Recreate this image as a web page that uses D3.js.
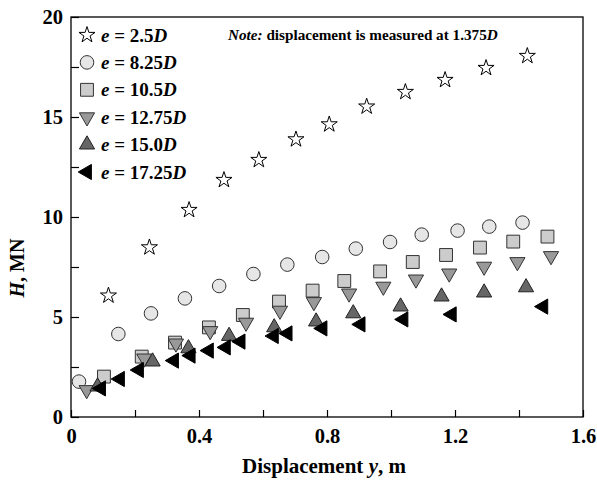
<!DOCTYPE html>
<html lang="en">
<head>
<meta charset="utf-8">
<title>H vs displacement</title>
<script src="https://d3js.org/d3.v7.min.js"></script>
<style>
  body { margin: 0; background: #fff; }
  text { font-family: "Liberation Serif", "Times New Roman", serif; font-weight: bold; }
</style>
</head>
<body>
<svg id="chart"></svg>
<script>
    // series values (displacement y in m, H in MN)
    const labels = ["2.5", "8.25", "10.5", "12.75", "15.0", "17.25"];

    const yStar = [0.117,0.245,0.369,0.478,0.587,0.703,0.807,0.924,1.045,1.169,1.297,1.426];
    const hStar = [6.07,8.48,10.35,11.85,12.85,13.88,14.63,15.52,16.25,16.85,17.45,18.05];

    const yCirc = [0.025,0.148,0.25,0.356,0.463,0.570,0.676,0.785,0.890,0.997,1.096,1.208,1.307,1.411];
    const hCirc = [1.77,4.15,5.18,5.93,6.55,7.15,7.62,8.0,8.42,8.75,9.12,9.32,9.52,9.72];

    const ySq = [0.103,0.221,0.325,0.431,0.537,0.65,0.755,0.854,0.966,1.068,1.172,1.278,1.382,1.489];
    const hSq = [2.02,3.02,3.72,4.48,5.1,5.77,6.32,6.8,7.28,7.75,8.1,8.47,8.77,9.02];

    const yDown = [0.049,0.229,0.328,0.435,0.547,0.653,0.759,0.869,0.976,1.078,1.182,1.291,1.395,1.5];
    const hDown = [1.35,2.93,3.68,4.3,4.72,5.32,5.75,6.18,6.52,6.88,7.18,7.52,7.75,8.05];

    const yUp = [0.083,0.255,0.367,0.494,0.635,0.766,0.882,1.030,1.158,1.291,1.422];
    const hUp = [1.52,2.77,3.43,4.05,4.48,4.77,5.18,5.52,6.02,6.22,6.48];

    const yLeft = [0.094,0.153,0.2125,0.322,0.374,0.431,0.484,0.530,0.634,0.677,0.786,0.905,1.039,1.190,1.476];
    const hLeft = [1.43,1.9,2.35,2.82,3.07,3.32,3.48,3.77,4.05,4.18,4.43,4.63,4.88,5.13,5.52];

    const xTicks = [0, 0.4, 0.8, 1.2, 1.6];
    const yTicks = [0, 5, 10, 15, 20];

    let margin = {top:17, right:14, bottom:67, left:71},
        width = 597,
        height = 484,
        chartWidth = width - margin.left - margin.right,
        chartHeight = height - margin.top - margin.bottom;

    let svg = d3.select("#chart")
        .attr("width", width)
        .attr("height", height);

    let x = d3.scaleLinear().domain([0, 1.6]).range([0, chartWidth]);
    let y = d3.scaleLinear().domain([0, 20]).range([chartHeight, 0]);

    let chartArea = svg.append("g")
        .attr("transform", `translate(${margin.left},${margin.top})`);

    // frame
    chartArea.append("rect")
        .attr("width", chartWidth).attr("height", chartHeight)
        .attr("fill", "none").attr("stroke", "#000").attr("stroke-width", 1.3);

    // inward ticks, labels only on the major ones
    let xAxis = chartArea.append("g")
        .attr("transform", `translate(0,${chartHeight})`)
        .call(d3.axisBottom(x).tickValues(d3.range(0, 1.61, 0.2)).tickSizeInner(-7).tickSizeOuter(0)
            .tickFormat(d => xTicks.some(t => Math.abs(t - d) < 1e-6) ? d3.format("~g")(d) : ""));
    xAxis.select(".domain").remove();
    xAxis.selectAll("line").attr("stroke-width", 1.2);
    xAxis.selectAll("text").attr("font-size", 20.5).attr("fill", "#000").attr("dy", "1.1em")
        .attr("font-family", "Liberation Serif");

    let yAxis = chartArea.append("g")
        .call(d3.axisLeft(y).tickValues(d3.range(0, 20.1, 2.5)).tickSizeInner(-8).tickSizeOuter(0)
            .tickFormat(d => yTicks.includes(d) ? d : ""));
    yAxis.select(".domain").remove();
    yAxis.selectAll("line").attr("stroke-width", 1.2);
    yAxis.selectAll("text").attr("font-size", 20.5).attr("fill", "#000").attr("x", -8)
        .attr("font-family", "Liberation Serif");

    // axis titles
    svg.append("text")
        .attr("x", 324).attr("y", 473)
        .attr("text-anchor", "middle").attr("font-size", 21)
        .call(t => {
            t.append("tspan").text("Displacement ");
            t.append("tspan").attr("font-style", "italic").text("y");
            t.append("tspan").text(", m");
        });

    svg.append("text")
        .attr("transform", `translate(24,268) rotate(-90)`)
        .attr("text-anchor", "middle").attr("font-size", 20)
        .call(t => {
            t.append("tspan").attr("font-style", "italic").text("H");
            t.append("tspan").text(", MN");
        });

    // marker definitions
    const sym = d3.symbol();
    const series = [
        {xs: yStar, hs: hStar, path: sym.type(d3.symbolStar).size(80)(), rot: 0, fill: "#fff", stroke: "#000"},
        {xs: yCirc, hs: hCirc, path: d3.symbol(d3.symbolCircle, 145)(), rot: 0, fill: "#e6e6e6", stroke: "#333"},
        {xs: ySq, hs: hSq, path: d3.symbol(d3.symbolSquare, 165)(), rot: 0, fill: "#cccccc", stroke: "#333"},
        {xs: yDown, hs: hDown, path: d3.symbol(d3.symbolTriangle, 100)(), rot: 180, fill: "#999999", stroke: "#333"},
        {xs: yUp, hs: hUp, path: d3.symbol(d3.symbolTriangle, 100)(), rot: 0, fill: "#666666", stroke: "#222"},
        {xs: yLeft, hs: hLeft, path: d3.symbol(d3.symbolTriangle, 100)(), rot: -90, fill: "#000", stroke: "#000"}
    ];

    series.forEach(s => {
        chartArea.append("g")
            .selectAll("path")
            .data(s.xs.map((v, i) => [v, s.hs[i]]))
            .enter().append("path")
                .attr("d", s.path)
                .attr("transform", d => `translate(${x(d[0])},${y(d[1])}) rotate(${s.rot})`)
                .attr("fill", s.fill)
                .attr("stroke", s.stroke)
                .attr("stroke-width", 1);
    });

    // legend
    let legend = svg.append("g").attr("id", "legend");
    series.forEach((s, i) => {
        let row = legend.append("g").attr("transform", `translate(87,${35 + i * 27.4})`);
        row.append("path")
            .attr("d", s.path)
            .attr("transform", `rotate(${s.rot})`)
            .attr("fill", s.fill).attr("stroke", s.stroke).attr("stroke-width", 1);
        row.append("text")
            .attr("x", 14).attr("dy", "0.35em").attr("font-size", 19)
            .call(t => {
                t.append("tspan").attr("font-style", "italic").text("e");
                t.append("tspan").text(" = " + labels[i]);
                t.append("tspan").attr("font-style", "italic").text("D");
            });
    });

    // note
    svg.append("text")
        .attr("x", 228).attr("y", 40).attr("font-size", 15.2)
        .call(t => {
            t.append("tspan").attr("font-style", "italic").text("Note:");
            t.append("tspan").text(" displacement is measured at 1.375");
            t.append("tspan").attr("font-style", "italic").text("D");
        });
</script>
</body>
</html>
